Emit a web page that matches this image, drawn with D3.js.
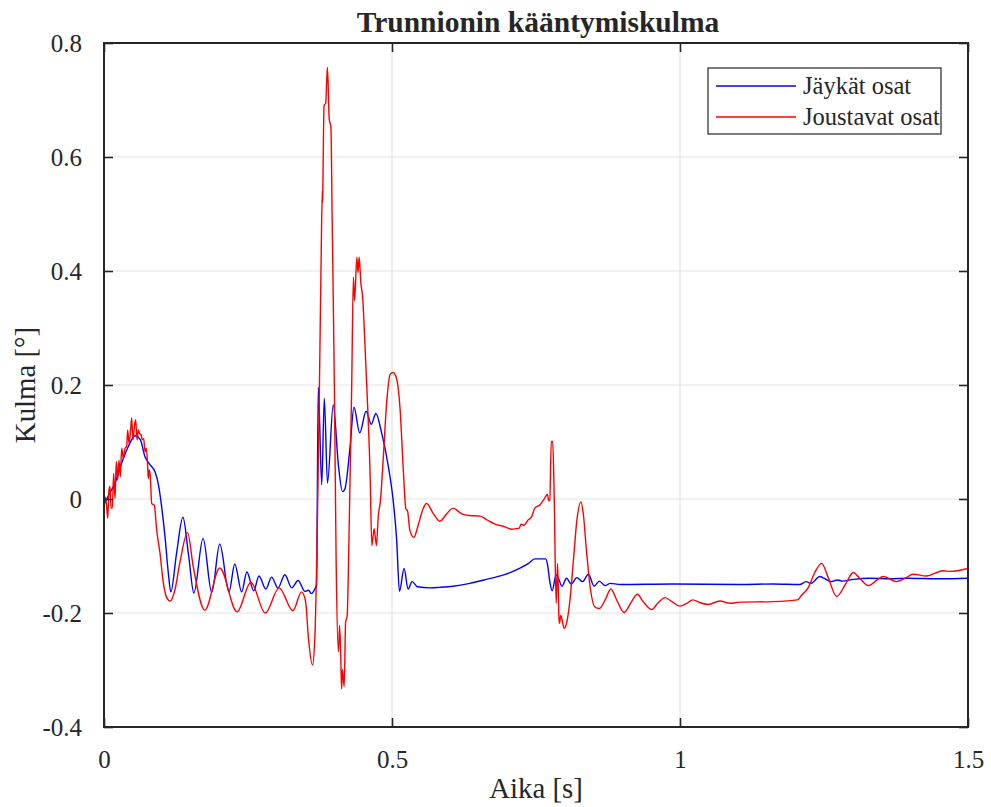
<!DOCTYPE html>
<html>
<head>
<meta charset="utf-8">
<script src="https://cdn.jsdelivr.net/npm/d3@7"></script>
<style>
  html, body { margin: 0; padding: 0; background: #fff; }
  svg { display: block; }
  text { font-family: "Liberation Serif", "Times New Roman", serif; fill: #262626; }
</style>
</head>
<body>
<svg id="chart" width="991" height="807"></svg>
<script>
// Time axis ticks and value axis ticks
const xTicks = [0, 0.5, 1, 1.5];
const xTickLabels = ["0", "0.5", "1", "1.5"];
const yTicks = [-0.4, -0.2, 0, 0.2, 0.4, 0.6, 0.8];
const yTickLabels = ["-0.4", "-0.2", "0", "0.2", "0.4", "0.6", "0.8"];

const seriesNames = ["Jäykät osat", "Joustavat osat"];
const seriesColors = ["#0000ff", "#ff0000"];

// Rigid parts model: time [s] and angle [°]
const tRigid = [0, 0.0081, 0.0191, 0.0307, 0.0422, 0.054, 0.063, 0.0712, 0.08, 0.0885, 0.094, 0.1, 0.1059, 0.1117,
  0.116, 0.126, 0.137, 0.147, 0.156, 0.172, 0.187, 0.201, 0.217, 0.227, 0.239, 0.248, 0.260, 0.269, 0.281, 0.291,
  0.302, 0.314, 0.326, 0.337, 0.349, 0.355, 0.360, 0.366, 0.369, 0.372, 0.378, 0.3825, 0.388, 0.398, 0.407, 0.414,
  0.418, 0.427, 0.434, 0.444, 0.455, 0.464, 0.472, 0.482, 0.494, 0.502, 0.508, 0.513, 0.521, 0.528, 0.535, 0.544,
  0.566, 0.583, 0.606, 0.635, 0.664, 0.694, 0.708, 0.723, 0.737, 0.748, 0.767, 0.770, 0.774, 0.778, 0.785, 0.789,
  0.795, 0.803, 0.811, 0.821, 0.831, 0.841, 0.851, 0.860, 0.870, 0.879, 0.896, 0.986, 1.104, 1.162, 1.208, 1.219,
  1.227, 1.243, 1.250, 1.262, 1.273, 1.282, 1.301, 1.330, 1.365, 1.394, 1.452, 1.5];
const yRigid = [-0.010, 0.007, 0.028, 0.063, 0.092, 0.111, 0.104, 0.074, 0.060, 0.048, 0.028, -0.013, -0.066, -0.130,
  -0.163, -0.095, -0.032, -0.100, -0.165, -0.069, -0.164, -0.079, -0.163, -0.114, -0.163, -0.128, -0.161, -0.135, -0.158, -0.137,
  -0.156, -0.133, -0.156, -0.143, -0.162, -0.160, -0.166, -0.158, -0.150, 0.196, 0.025, 0.177, 0.028, 0.165, 0.059, 0.013,
  0.017, 0.089, 0.161, 0.116, 0.154, 0.131, 0.150, 0.116, 0.055, -0.002, -0.070, -0.162, -0.122, -0.158, -0.145, -0.154,
  -0.156, -0.155, -0.153, -0.148, -0.141, -0.133, -0.128, -0.121, -0.113, -0.105, -0.105, -0.115, -0.145, -0.161, -0.133, -0.139,
  -0.153, -0.139, -0.149, -0.138, -0.145, -0.132, -0.153, -0.144, -0.152, -0.148, -0.150, -0.149, -0.150, -0.149, -0.150, -0.145,
  -0.148, -0.136, -0.139, -0.145, -0.142, -0.144, -0.141, -0.139, -0.140, -0.139, -0.140, -0.139];

// Flexible parts model: time [s] and angle [°]
const tFlexible = [0, 0.0017, 0.0046, 0.0064, 0.0087, 0.0104, 0.0122, 0.0145, 0.0168, 0.0191, 0.0214, 0.0237, 0.026,
  0.0284, 0.0307, 0.0336, 0.0365, 0.0394, 0.0411, 0.0434, 0.0457, 0.048, 0.0503, 0.0527, 0.055, 0.0573, 0.0596, 0.0619,
  0.0642, 0.0665, 0.0689, 0.0712, 0.0735, 0.0758, 0.077, 0.0787, 0.0804, 0.0828, 0.0874, 0.0914, 0.0972, 0.103, 0.109,
  0.115, 0.123, 0.132, 0.145, 0.155, 0.175, 0.201, 0.231, 0.255, 0.280, 0.304, 0.328, 0.343, 0.350, 0.355, 0.362,
  0.366, 0.370, 0.374, 0.377, 0.379, 0.3795, 0.380, 0.382, 0.385, 0.387, 0.388, 0.391, 0.394, 0.396, 0.400, 0.403,
  0.407, 0.409, 0.411, 0.4125, 0.414, 0.417, 0.4195, 0.422, 0.426, 0.430, 0.433, 0.435, 0.439, 0.441, 0.443, 0.446,
  0.449, 0.453, 0.457, 0.462, 0.465, 0.469, 0.473, 0.476, 0.480, 0.485, 0.491, 0.497, 0.502, 0.508, 0.514, 0.520,
  0.524, 0.527, 0.531, 0.538, 0.546, 0.554, 0.560, 0.572, 0.583, 0.595, 0.606, 0.621, 0.635, 0.653, 0.664, 0.679,
  0.694, 0.708, 0.715, 0.721, 0.724, 0.729, 0.737, 0.742, 0.748, 0.757, 0.763, 0.770, 0.772, 0.774, 0.7765, 0.779,
  0.7815, 0.785, 0.7875, 0.790, 0.791, 0.793, 0.799, 0.803, 0.809, 0.815, 0.821, 0.828, 0.832, 0.838, 0.844, 0.852,
  0.860, 0.870, 0.880, 0.890, 0.903, 0.916, 0.926, 0.936, 0.951, 0.962, 0.974, 0.986, 1.0, 1.012, 1.022, 1.035,
  1.049, 1.069, 1.087, 1.104, 1.162, 1.204, 1.211, 1.223, 1.234, 1.246, 1.257, 1.272, 1.287, 1.301, 1.310, 1.327,
  1.342, 1.353, 1.376, 1.391, 1.405, 1.428, 1.443, 1.457, 1.470, 1.486, 1.5];
const yFlexible = [-0.010, 0.004, -0.013, -0.034, 0.016, 0.022, -0.016, -0.016, 0.045, 0.001, 0.066, 0.033, 0.068,
  0.039, 0.089, 0.071, 0.089, 0.092, 0.121, 0.098, 0.115, 0.142, 0.104, 0.127, 0.139, 0.104, 0.121, 0.115,
  0.113, 0.104, 0.106, 0.083, 0.089, 0.057, 0.036, 0.051, 0.039, -0.008, -0.011, -0.054, -0.095, -0.147, -0.173,
  -0.179, -0.160, -0.110, -0.059, -0.119, -0.195, -0.121, -0.198, -0.146, -0.200, -0.156, -0.196, -0.163, -0.180, -0.245, -0.291,
  -0.245, -0.070, 0.196, 0.424, 0.541, 0.520, 0.550, 0.690, 0.695, 0.743, 0.757, 0.667, 0.652, 0.500, 0.196, -0.108,
  -0.268, -0.222, -0.276, -0.333, -0.299, -0.329, -0.215, -0.207, -0.032, 0.196, 0.389, 0.348, 0.424, 0.397, 0.424, 0.378,
  0.355, 0.272, 0.180, 0.044, -0.082, -0.052, -0.082, -0.032, -0.002, 0.074, 0.173, 0.219, 0.222, 0.211, 0.158, 0.044,
  -0.017, -0.021, -0.055, -0.067, -0.044, -0.017, -0.008, -0.026, -0.039, -0.026, -0.016, -0.026, -0.029, -0.030, -0.036, -0.044,
  -0.048, -0.053, -0.052, -0.051, -0.044, -0.046, -0.036, -0.032, -0.016, -0.010, -0.002, 0.008, -0.003, -0.002, 0.101, 0.101,
  0.010, -0.183, -0.113, -0.212, -0.218, -0.204, -0.227, -0.218, -0.177, -0.107, -0.037, -0.005, -0.025, -0.095, -0.154, -0.189,
  -0.192, -0.177, -0.158, -0.177, -0.199, -0.180, -0.167, -0.180, -0.194, -0.182, -0.173, -0.180, -0.188, -0.183, -0.177, -0.182,
  -0.185, -0.179, -0.183, -0.181, -0.180, -0.177, -0.169, -0.155, -0.129, -0.113, -0.137, -0.171, -0.150, -0.129, -0.137, -0.152,
  -0.142, -0.136, -0.145, -0.139, -0.132, -0.135, -0.130, -0.126, -0.127, -0.125, -0.122];

const svg = d3.select("#chart");
const margin = { left: 104, right: 991 - 968, top: 43, bottom: 807 - 727 };
const width = 991 - margin.left - margin.right;
const height = 807 - margin.top - margin.bottom;

const x = d3.scaleLinear().domain([0, 1.5]).range([margin.left, margin.left + width]);
const y = d3.scaleLinear().domain([-0.4, 0.8]).range([margin.top + height, margin.top]);

const frameColor = "#262626";
const tickLen = 9;

// Grid lines
const grid = svg.append("g");
grid.selectAll("line.gx").data(xTicks).join("line")
  .attr("x1", d => x(d)).attr("x2", d => x(d))
  .attr("y1", y(-0.4)).attr("y2", y(0.8))
  .attr("stroke", "#e3e3e3").attr("stroke-width", 1.2);
grid.selectAll("line.gy").data(yTicks).join("line")
  .attr("x1", x(0)).attr("x2", x(1.5))
  .attr("y1", d => y(d)).attr("y2", d => y(d))
  .attr("stroke", "#e3e3e3").attr("stroke-width", 1.2);

// Data lines
const clip = svg.append("clipPath").attr("id", "plotClip")
  .append("rect").attr("x", x(0)).attr("y", y(0.8)).attr("width", width).attr("height", height);

const line = d3.line().x(d => x(d[0])).y(d => y(d[1])).curve(d3.curveMonotoneX);
const series = [
  { name: seriesNames[0], color: seriesColors[0], pts: d3.zip(tRigid, yRigid) },
  { name: seriesNames[1], color: seriesColors[1], pts: d3.zip(tFlexible, yFlexible) }
];
svg.append("g").attr("clip-path", "url(#plotClip)")
  .selectAll("path").data(series).join("path")
  .attr("d", d => line(d.pts))
  .attr("fill", "none")
  .attr("stroke", d => d.color)
  .attr("stroke-width", 1.4)
  .attr("stroke-linejoin", "round");

// Axes: ticks pointing inward on all four sides
const axisBottom = d3.axisBottom(x).tickValues(xTicks).tickFormat((d, i) => xTickLabels[i]).tickSizeInner(-tickLen).tickSizeOuter(0).tickPadding(tickLen + 14);
const axisTop = d3.axisTop(x).tickValues(xTicks).tickFormat("").tickSizeInner(-tickLen).tickSizeOuter(0);
const axisLeft = d3.axisLeft(y).tickValues(yTicks).tickFormat((d, i) => yTickLabels[i]).tickSizeInner(-tickLen).tickSizeOuter(0).tickPadding(tickLen + 13);
const axisRight = d3.axisRight(y).tickValues(yTicks).tickFormat("").tickSizeInner(-tickLen).tickSizeOuter(0);

function styleAxis(g) {
  g.select(".domain").remove();
  g.selectAll(".tick line").attr("stroke", frameColor).attr("stroke-width", 1.6);
  g.selectAll(".tick text").attr("font-family", "Liberation Serif, Times New Roman, serif")
    .attr("font-size", 25).attr("fill", frameColor);
}
svg.append("g").attr("transform", `translate(0,${y(-0.4)})`).call(axisBottom).call(styleAxis);
svg.append("g").attr("transform", `translate(0,${y(0.8)})`).call(axisTop).call(styleAxis);
svg.append("g").attr("transform", `translate(${x(0)},0)`).call(axisLeft).call(styleAxis);
svg.append("g").attr("transform", `translate(${x(1.5)},0)`).call(axisRight).call(styleAxis);

// Frame box
svg.append("rect")
  .attr("x", x(0)).attr("y", y(0.8)).attr("width", width).attr("height", height)
  .attr("fill", "none").attr("stroke", frameColor).attr("stroke-width", 2);

// Title and axis labels
svg.append("text").attr("x", x(0.75) + 2).attr("y", 32).attr("text-anchor", "middle")
  .attr("font-size", 29.5).attr("font-weight", "bold").attr("fill", "#000")
  .text("Trunnionin kääntymiskulma");
svg.append("text").attr("x", x(0.75)).attr("y", 798).attr("text-anchor", "middle")
  .attr("font-size", 28.8).text("Aika [s]");
svg.append("text").attr("transform", `translate(35,${y(0.2)}) rotate(-90)`).attr("text-anchor", "middle")
  .attr("font-size", 28.8).text("Kulma [°]");

// Legend
const lg = svg.append("g");
lg.append("rect").attr("x", 708).attr("y", 68).attr("width", 233).attr("height", 66)
  .attr("fill", "#fff").attr("stroke", frameColor).attr("stroke-width", 1.2);
const rowY = [86, 117];
series.forEach((s, i) => {
  lg.append("line").attr("x1", 716).attr("x2", 796).attr("y1", rowY[i]).attr("y2", rowY[i])
    .attr("stroke", s.color).attr("stroke-width", 1.4);
  lg.append("text").attr("x", 803).attr("y", rowY[i]).attr("dy", "0.33em")
    .attr("font-size", 24.5).attr("fill", "#000").text(s.name);
});
</script>
</body>
</html>
